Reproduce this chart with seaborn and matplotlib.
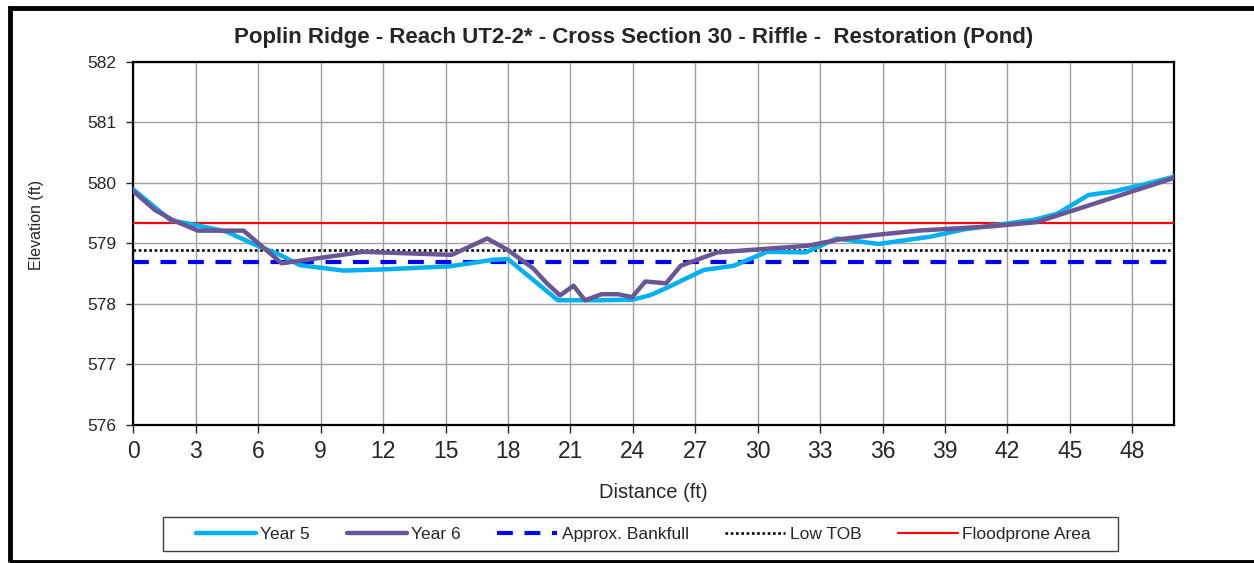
import matplotlib
matplotlib.use("Agg")
import matplotlib.pyplot as plt
import matplotlib.patches as mpatches
import seaborn as sns
import pandas as pd

# ---- data ----
year5_x = [0, 1.8, 3.05, 4.5, 5.9, 7.05, 8.0, 10.1, 12.0, 15.2, 17.3, 18.0, 20.4, 22.4, 24.0, 24.8,
           25.6, 27.4, 28.85, 30.45, 32.3, 33.8, 35.8, 38.3, 39.9, 43.3, 44.4, 45.9, 47.0, 48.4, 50.0]
year5_y = [579.89, 579.38, 579.30, 579.19, 578.97, 578.81, 578.64, 578.55, 578.57, 578.62, 578.73, 578.74,
           578.06, 578.06, 578.07, 578.14, 578.26, 578.56, 578.63, 578.86, 578.85, 579.08, 578.99, 579.11,
           579.23, 579.39, 579.49, 579.80, 579.85, 579.96, 580.10]

year6_x = [0, 1.04, 1.92, 3.1, 5.3, 7.13, 11.06, 15.3, 17.0, 17.95, 19.2, 19.87, 20.5, 21.15, 21.7, 22.5,
           23.3, 23.96, 24.6, 25.6, 26.3, 28.05, 30.0, 32.4, 34.0, 35.7, 37.7, 41.2, 43.4, 44.4, 50.0]
year6_y = [579.86, 579.55, 579.38, 579.21, 579.21, 578.67, 578.86, 578.81, 579.08, 578.90, 578.59, 578.34,
           578.14, 578.30, 578.06, 578.16, 578.16, 578.11, 578.37, 578.34, 578.63, 578.85, 578.90, 578.96,
           579.07, 579.14, 579.21, 579.28, 579.35, 579.46, 580.08]

bankfull = 578.70
low_tob = 578.89
floodprone = 579.34

x_ticks = list(range(0, 49, 3))
y_ticks = [576, 577, 578, 579, 580, 581, 582]

title = "Poplin Ridge - Reach UT2-2* - Cross Section 30 - Riffle -  Restoration (Pond)"

# ---- plot ----
sns.set_style("white")
plt.rcParams['font.family'] = ['Liberation Sans', 'DejaVu Sans']

W, H = 1254, 563
fig = plt.figure(figsize=(W/100, H/100), dpi=100)
ax = fig.add_axes([133.3/W, 1-425/H, (1174-133.3)/W, (425-61.7)/H])

df5 = pd.DataFrame({"x": year5_x, "y": year5_y})
df6 = pd.DataFrame({"x": year6_x, "y": year6_y})

sns.lineplot(data=df5, x="x", y="y", ax=ax, color="#00B0F0", lw=3.2, label="Year 5",
             sort=False, estimator=None, zorder=4)
sns.lineplot(data=df6, x="x", y="y", ax=ax, color="#6A5694", lw=3.2, label="Year 6",
             sort=False, estimator=None, zorder=5)
ax.axhline(bankfull, color="#0000FF", lw=3.0, ls=(0, (3.8, 2.8)), label="Approx. Bankfull", zorder=3)
ax.axhline(low_tob, color="black", lw=1.9, ls=(0, (1, 1)), label="Low TOB", zorder=3)
ax.axhline(floodprone, color="#FF0000", lw=1.6, label="Floodprone Area", zorder=3)

ax.set_xlim(0, 50)
ax.set_ylim(576, 582)
ax.set_xticks(x_ticks)
ax.set_yticks(y_ticks)
ax.tick_params(axis="x", labelsize=16.5, direction="out", length=6, width=1, bottom=True, pad=5)
ax.tick_params(axis="y", labelsize=12.5, direction="out", length=5, width=1, left=True, pad=7)
ax.grid(True, color="#A0A0A0", lw=1)
ax.set_axisbelow(True)
for s in ax.spines.values():
    s.set_color("black")
    s.set_linewidth(1.6)

ax.set_xlabel("Distance (ft)", fontsize=14.5, va="center")
ax.xaxis.set_label_coords(0.5, (425-493)/(425-61.7))
ax.set_ylabel("Elevation (ft)", fontsize=11.5, va="center")
ax.yaxis.set_label_coords((36-133.3)/(1174-133.3), (425-225)/(425-61.7))
fig.text(0.505, 1-38/H, title, ha="center", va="center", fontsize=16, fontweight="bold")

handles, labels = ax.get_legend_handles_labels()
if ax.legend_:
    ax.legend_.remove()
leg = fig.legend(handles, labels, ncol=5, loc="center",
                 bbox_to_anchor=(196/W, 1-551/H, (1091-196)/W, 34/H),
                 mode="expand", frameon=False, fontsize=12.5,
                 handlelength=3.45, handletextpad=0.25, borderaxespad=0, borderpad=0)

# legend box
fig.patches.append(mpatches.Rectangle((162.7/W, 1-551/H), (1118-162.7)/W, 34/H, transform=fig.transFigure,
                                      fill=False, edgecolor="#404040", lw=1, zorder=0))
# outer frame
fig.patches.append(mpatches.Rectangle((10/W, 1-562/H), 1.1, (562-8)/H, transform=fig.transFigure,
                                      fill=False, edgecolor="black", lw=3.5, zorder=0))

fig.savefig("out.png", dpi=100)
